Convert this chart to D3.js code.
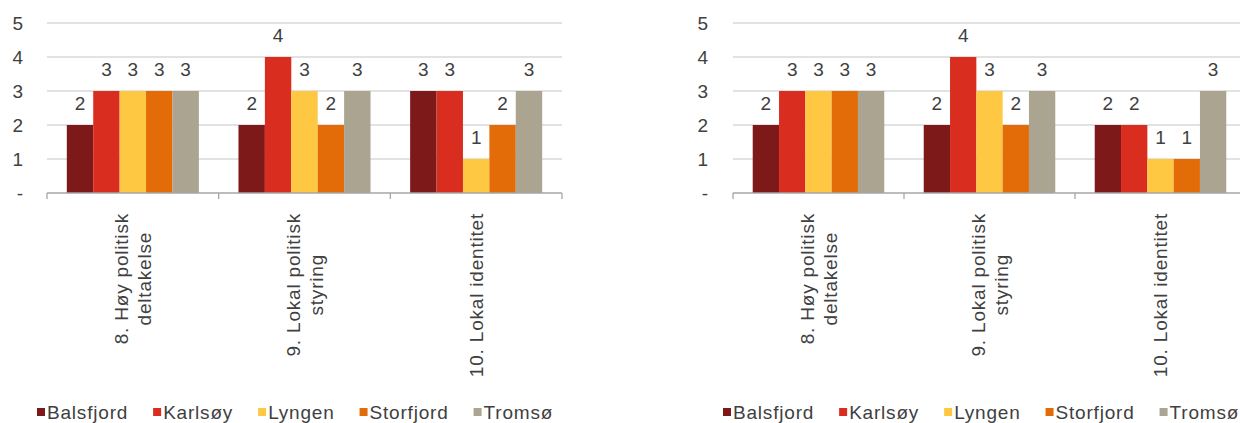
<!DOCTYPE html>
<html>
<head>
<meta charset="utf-8">
<script src="https://cdn.jsdelivr.net/npm/d3@7"></script>
<style>
  html, body { margin: 0; padding: 0; background: #fff; }
  svg text { font-family: "Liberation Sans", Arial, sans-serif; }
</style>
</head>
<body>
<svg id="chart" width="1240" height="423"></svg>
<script>
// ---- data ----
const categories = ["8. Høy politisk\ndeltakelse", "9. Lokal politisk\nstyring", "10. Lokal identitet"];
const series = ["Balsfjord", "Karlsøy", "Lyngen", "Storfjord", "Tromsø"];
const colors = ["#7e1919", "#d82d1f", "#fec843", "#e36c09", "#aba490"];
const yTickValues = [0, 1, 2, 3, 4, 5];
const yTickLabels = ["-", "1", "2", "3", "4", "5"];

// left panel values (per series, per category)
const leftBalsfjord = [2, 2, 3];
const leftKarlsoy   = [3, 4, 3];
const leftLyngen    = [3, 3, 1];
const leftStorfjord = [3, 2, 2];
const leftTromso    = [3, 3, 3];

// right panel values
const rightBalsfjord = [2, 2, 2];
const rightKarlsoy   = [3, 4, 2];
const rightLyngen    = [3, 3, 1];
const rightStorfjord = [3, 2, 1];
const rightTromso    = [3, 3, 3];

const leftValues  = [leftBalsfjord, leftKarlsoy, leftLyngen, leftStorfjord, leftTromso];
const rightValues = [rightBalsfjord, rightKarlsoy, rightLyngen, rightStorfjord, rightTromso];

// ---- drawing ----
const svg = d3.select("#chart");
const FS = 19, LS = 0.8, TXT = "#404040";

function panel(values, px0, px1, legendX, yLabelRight) {
  const g = svg.append("g");
  const y = d3.scaleLinear().domain([0, 5]).range([193, 23]);
  const x0 = d3.scaleBand().domain(categories).range([px0, px1]).padding(0);
  const bw = x0.bandwidth();
  const w = bw / 6.5;
  const x1 = d3.scaleBand().domain(series).range([0.75 * w, bw - 0.75 * w]).padding(0);

  // gridlines
  g.selectAll("line.grid").data(yTickValues.filter(v => v > 0)).join("line")
    .attr("x1", px0).attr("x2", px1)
    .attr("y1", d => y(d)).attr("y2", d => y(d))
    .attr("stroke", "#d9d9d9").attr("stroke-width", 1.3);

  // y tick labels
  g.selectAll("text.ytick").data(yTickValues).join("text")
    .attr("x", yLabelRight).attr("y", d => y(d) + 6.8)
    .attr("text-anchor", "end").attr("font-size", FS).attr("fill", TXT)
    .text((d, i) => yTickLabels[i]);

  // bars
  series.forEach((s, si) => {
    g.selectAll("rect.s" + si).data(values[si]).join("rect")
      .attr("x", (d, ci) => x0(categories[ci]) + x1(s))
      .attr("width", x1.bandwidth())
      .attr("y", d => y(d))
      .attr("height", d => y(0) - y(d))
      .attr("fill", colors[si]);
    g.selectAll("text.v" + si).data(values[si]).join("text")
      .attr("x", (d, ci) => x0(categories[ci]) + x1(s) + x1.bandwidth() / 2)
      .attr("y", d => y(d) - 15)
      .attr("text-anchor", "middle").attr("font-size", FS).attr("fill", TXT)
      .text(d => d);
  });

  // x axis baseline + ticks
  const axisCol = "#a6a6a6";
  g.append("line").attr("x1", px0).attr("x2", px1).attr("y1", y(0)).attr("y2", y(0))
    .attr("stroke", axisCol).attr("stroke-width", 1.3);
  const bounds = categories.map(c => x0(c)).concat([px1]);
  g.selectAll("line.xt").data(bounds).join("line")
    .attr("x1", d => d).attr("x2", d => d).attr("y1", y(0)).attr("y2", y(0) + 6)
    .attr("stroke", axisCol).attr("stroke-width", 1.3);

  // category labels (rotated)
  categories.forEach(c => {
    const lines = c.split("\n");
    const cx = x0(c) + bw / 2;
    const tg = g.append("g");
    const t = tg.append("text").attr("text-anchor", "middle").attr("font-size", FS)
      .attr("fill", TXT).attr("letter-spacing", LS);
    lines.forEach((ln, i) => {
      t.append("tspan").attr("x", 0).attr("y", 6.8 + (i - (lines.length - 1) / 2) * 23).text(ln);
    });
    let maxL = 0;
    t.selectAll("tspan").each(function () { maxL = Math.max(maxL, this.getComputedTextLength()); });
    tg.attr("transform", `translate(${cx},${213 + maxL / 2}) rotate(-90)`);
  });

  // legend
  let lx = legendX;
  series.forEach((s, si) => {
    g.append("rect").attr("x", lx).attr("y", 408).attr("width", 8).attr("height", 8).attr("fill", colors[si]);
    const t = g.append("text").attr("x", lx + 10).attr("y", 419).attr("font-size", FS)
      .attr("fill", TXT).attr("letter-spacing", LS).text(s);
    lx += 10 + t.node().getComputedTextLength() + 25;
  });
}

panel(leftValues, 47, 562, 37, 23);
panel(rightValues, 733, 1246, 723, 708);
</script>
</body>
</html>
